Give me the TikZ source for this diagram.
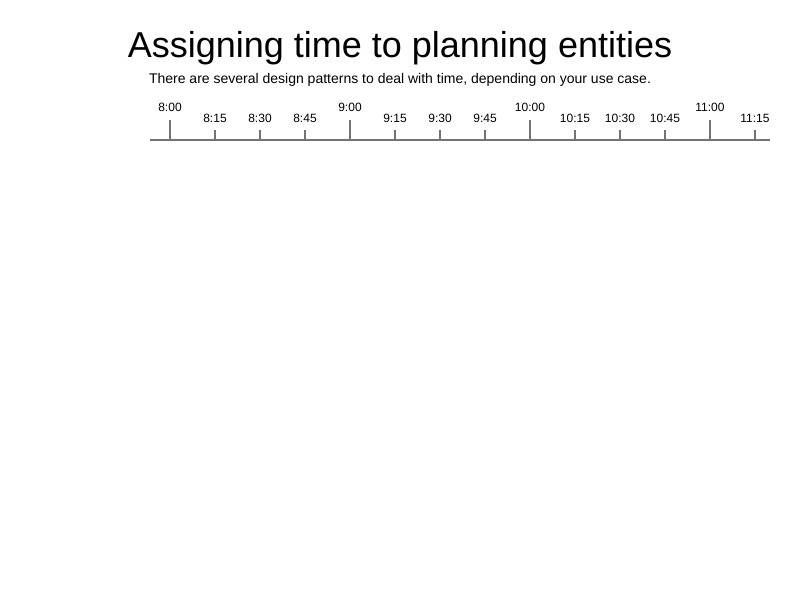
\documentclass[tikz,border=0pt]{standalone}
\usepackage{fontspec}
\setmainfont{Liberation Sans}
\begin{document}
\begin{tikzpicture}[x=1pt,y=-1pt,
  axisline/.style={draw=gray!90!black, line width=1.3pt},
  tickline/.style={draw=gray!90!black, line width=1.3pt},
  majorlabel/.style={anchor=base, inner sep=0pt, font=\fontsize{12}{14}\selectfont},
  minorlabel/.style={anchor=base, inner sep=0pt, font=\fontsize{12}{14}\selectfont}]
\useasboundingbox (0,0) rectangle (800,600);
\node[anchor=base, inner sep=0pt, font=\fontsize{36}{40}\selectfont] (title) at (400,57) {Assigning time to planning entities};
\node[anchor=base, inner sep=0pt, font=\fontsize{14}{16}\selectfont] (sub) at (400,83) {There are several design patterns to deal with time, depending on your use case.};
\coordinate (axL) at (150,140);
\coordinate (axR) at (770,140);
\draw[axisline] (axL) -- (axR);
\foreach \h/\lab in {0/8:00,1/9:00,2/10:00,3/11:00}{
  \draw[tickline] (170+180*\h,120) -- (170+180*\h,140);
  \node[majorlabel] (maj\h) at (170+180*\h,111) {\lab};
}
\foreach \i/\lab in {1/8:15,2/8:30,3/8:45,5/9:15,6/9:30,7/9:45,9/10:15,10/10:30,11/10:45,13/11:15}{
  \draw[tickline] (170+45*\i,130) -- (170+45*\i,140);
  \node[minorlabel] (min\i) at (170+45*\i,122) {\lab};
}
\end{tikzpicture}
\end{document}
